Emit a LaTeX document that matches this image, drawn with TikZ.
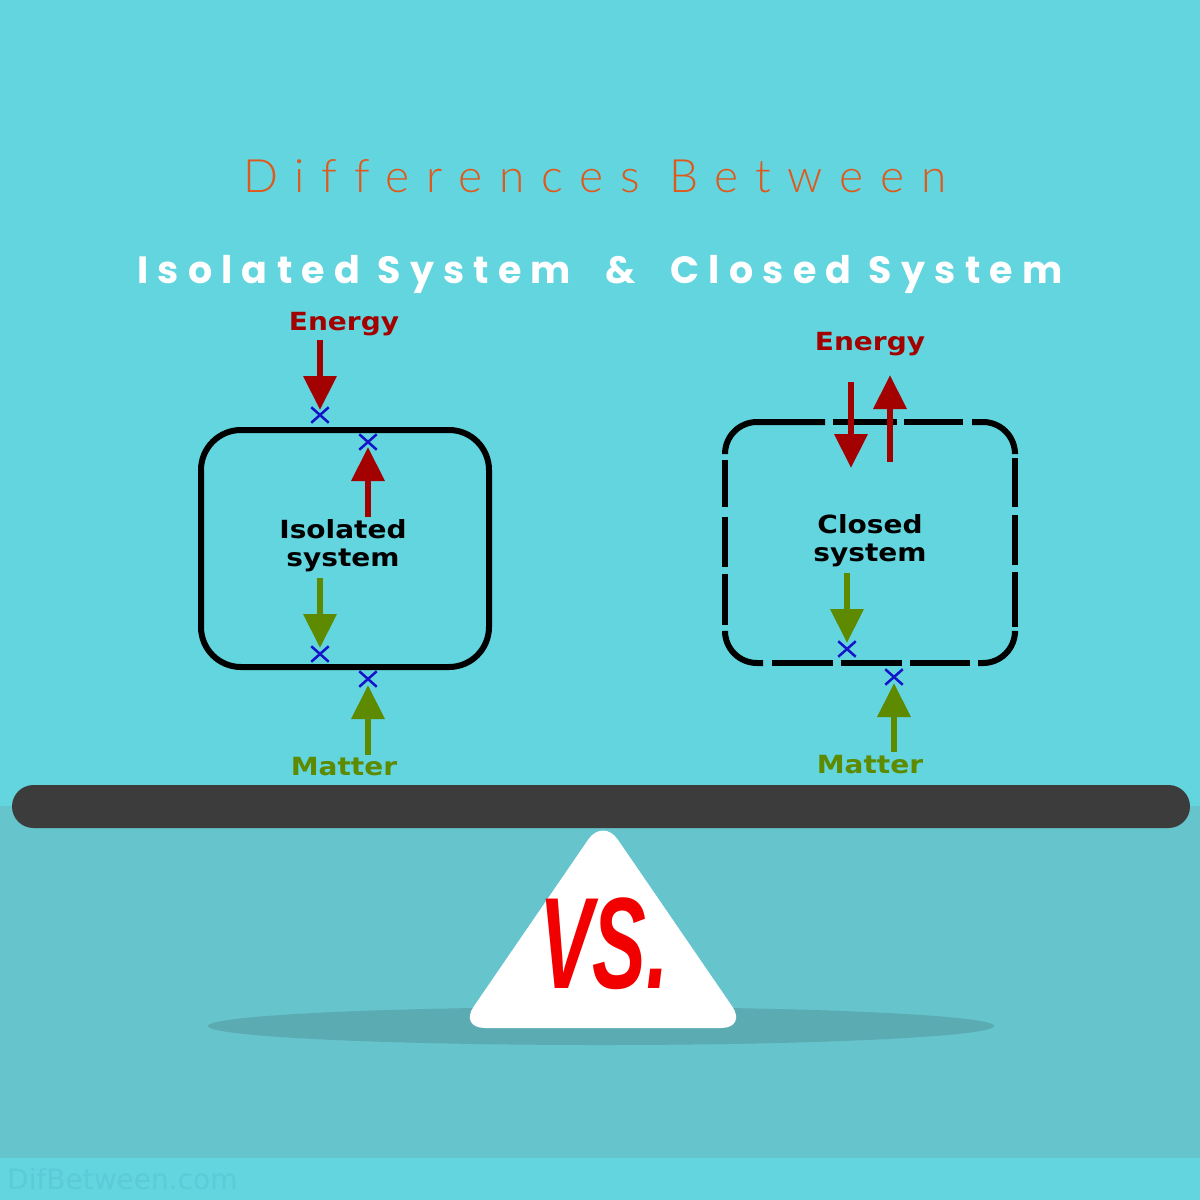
\documentclass[tikz,border=0pt]{standalone}
\usepackage{fontspec}
\usetikzlibrary{arrows.meta,shapes.misc}
\newfontfamily\labfont[FakeStretch=1.12]{DejaVu Sans}
\newfontfamily\titlefont[LetterSpace=36.5,Ligatures=NoCommon]{Lato Light}
\newfontfamily\subfont[LetterSpace=24.3]{Poppins}
\newfontfamily\vsfont[FakeStretch=0.62]{Liberation Sans}
\newfontfamily\wmfont{DejaVu Sans}
\definecolor{bgtop}{HTML}{62D5DF}
\definecolor{bglow}{HTML}{66C4CC}
\definecolor{shadowc}{HTML}{5BABB2}
\definecolor{barc}{HTML}{3C3C3C}
\definecolor{enred}{HTML}{A30000}
\definecolor{mgreen}{HTML}{5E8A00}
\definecolor{xblue}{HTML}{1414C8}
\definecolor{titlec}{HTML}{E0581A}
\definecolor{vsred}{HTML}{F20000}
\definecolor{wmc}{HTML}{5CCBD6}
\tikzset{
  lab/.style={font=\labfont\bfseries\fontsize{25}{28}\selectfont, align=center, inner sep=0pt},
  enarrow/.style={draw=enred, line width=6.5pt, -{Triangle[width=32pt,length=34pt]}},
  mtarrow/.style={draw=mgreen, line width=6.5pt, -{Triangle[width=32pt,length=34pt]}},
  xmark/.style={cross out, draw=xblue, line width=2.5pt, minimum width=15pt, minimum height=13pt, inner sep=0pt},
  wall/.style={draw=black, line width=6pt, line cap=butt},
}
\begin{document}
\begin{tikzpicture}[x=1pt,y=-1pt]
\useasboundingbox (0,0) rectangle (1200,1200);
% background
\fill[bgtop] (0,0) rectangle (1200,1200);
\fill[bglow] (0,806) rectangle (1200,1158);
% shadow, bar, stand
\fill[shadowc] (601,1026) ellipse [x radius=393, y radius=19];
\fill[barc, rounded corners=21.5pt] (12,785) rectangle (1190,828);
\fill[white, rounded corners=26pt] (603,818) -- (747,1028) -- (459,1028) -- cycle;
\node[text=vsred, inner sep=0pt, font=\vsfont\bfseries\itshape\fontsize{130}{130}\selectfont] (vs) at (604,944) {VS.};
% watermark
\node[text=wmc, anchor=west, inner sep=0pt, font=\wmfont\fontsize{28}{28}\selectfont] (wm) at (7,1179) {DifBetween.com};
% titles
\node[text=titlec, inner sep=0pt, font=\titlefont\fontsize{46}{46}\selectfont] (title) at (595,176) {Differences Between};
\node[text=white, inner sep=0pt, font=\subfont\bfseries\fontsize{38}{38}\selectfont] (subtitle) at (600,274) {Isolated System\ \ \&\ \ Closed System};

% ---------- Isolated system ----------
\node[draw=black, line width=6pt, rounded corners=40pt, minimum width=288pt, minimum height=237pt] (iso) at (345,548.5) {};
\node[lab] (isotxt) at (343,546) {Isolated\\system};
\node[lab, text=enred] (ienergy) at (344,324) {Energy};
\node[lab, text=mgreen] (imatter) at (344,767) {Matter};
\node[xmark] (ix1) at (320,415) {};
\node[xmark] (ix2) at (368,442) {};
\node[xmark] (ix3) at (320,654) {};
\node[xmark] (ix4) at (368,679) {};
\coordinate (ia1s) at (320,340); \coordinate (ia1e) at (320,410);
\coordinate (ia2s) at (368,517); \coordinate (ia2e) at (368,447);
\coordinate (ia3s) at (320,578); \coordinate (ia3e) at (320,648);
\coordinate (ia4s) at (368,755); \coordinate (ia4e) at (368,685);
\draw[enarrow] (ia1s) -- (ia1e);
\draw[enarrow] (ia2s) -- (ia2e);
\draw[mtarrow] (ia3s) -- (ia3e);
\draw[mtarrow] (ia4s) -- (ia4e);

% ---------- Closed system ----------
% corners
\draw[wall] (725,452) -- (725,454) arc[start angle=180, end angle=270, radius=32] -- (825,422);
\draw[wall] (972,422) -- (983,422) arc[start angle=270, end angle=360, radius=32] -- (1015,452);
\draw[wall] (725,632) -- (725,631) arc[start angle=180, end angle=90, radius=32] -- (763,663);
\draw[wall] (978,663) -- (983,663) arc[start angle=90, end angle=0, radius=32] -- (1015,633);
% top
\draw[wall] (833,422) -- (897,422);
\draw[wall] (904,422) -- (963,422);
% bottom
\draw[wall] (772,663) -- (833,663);
\draw[wall] (841,663) -- (902,663);
\draw[wall] (910,663) -- (970,663);
% left
\draw[wall] (725,460) -- (725,507);
\draw[wall] (725,517) -- (725,567);
\draw[wall] (725,574) -- (725,625);
% right
\draw[wall] (1015,458) -- (1015,507);
\draw[wall] (1015,515) -- (1015,565);
\draw[wall] (1015,572) -- (1015,627);
\node[lab] (clotxt) at (870,541) {Closed\\system};
\node[lab, text=enred] (cenergy) at (870,344) {Energy};
\node[lab, text=mgreen] (cmatter) at (870,765) {Matter};
\node[xmark] (cx1) at (847,649) {};
\node[xmark] (cx2) at (894,677) {};
\coordinate (ca1s) at (851,382); \coordinate (ca1e) at (851,468);
\coordinate (ca2s) at (890,462); \coordinate (ca2e) at (890,375);
\coordinate (ca3s) at (847,573); \coordinate (ca3e) at (847,643);
\coordinate (ca4s) at (894,752); \coordinate (ca4e) at (894,683);
\draw[enarrow] (ca1s) -- (ca1e);
\draw[enarrow] (ca2s) -- (ca2e);
\draw[mtarrow] (ca3s) -- (ca3e);
\draw[mtarrow] (ca4s) -- (ca4e);
\end{tikzpicture}
\end{document}
